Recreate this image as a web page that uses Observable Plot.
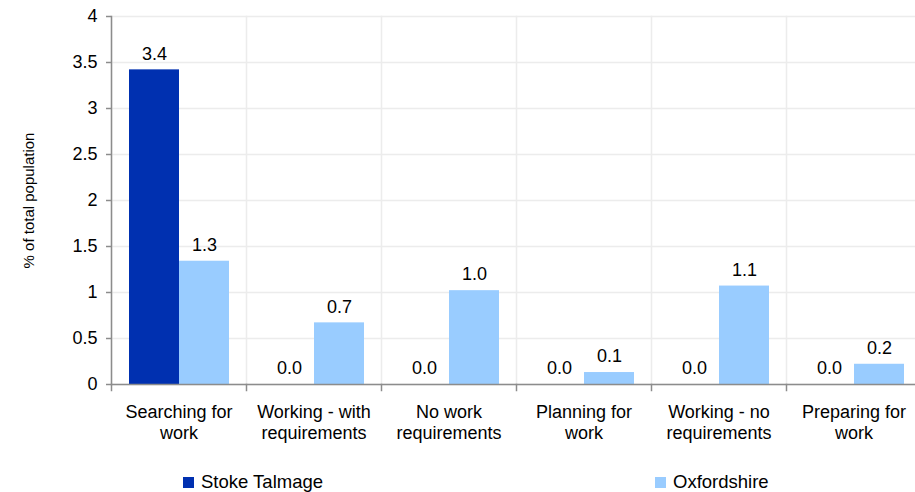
<!DOCTYPE html>
<html><head><meta charset="utf-8">
<script src="https://cdn.jsdelivr.net/npm/d3@7"></script>
<script src="https://cdn.jsdelivr.net/npm/@observablehq/plot@0.6"></script>
<style>
body{margin:0;background:#fff;font-family:"Liberation Sans",Arial,sans-serif;overflow:hidden;width:915px;height:492px}
#legend{position:relative;height:32px;}
.item{position:absolute;top:11px;display:flex;align-items:center;font-size:18.5px;line-height:22px;color:#000}
.sw{width:11px;height:11px;margin-right:7px}
</style></head><body><div id="chart"></div><div id="legend"></div>
<script>
const categories = ["Searching for\nwork", "Working - with\nrequirements", "No work\nrequirements", "Planning for\nwork", "Working - no\nrequirements", "Preparing for\nwork"];
const series = ["Stoke Talmage", "Oxfordshire"];
const stokeValues = [3.42, 0, 0, 0, 0, 0];
const oxfordshireValues = [1.34, 0.67, 1.02, 0.13, 1.07, 0.22];
const yTicks = [0, 0.5, 1, 1.5, 2, 2.5, 3, 3.5, 4];
const yLabel = "% of total population";
const colors = ["#0030B0", "#99CCFF"];

const data = categories.flatMap((c, i) => [
  {category: c, series: series[0], value: stokeValues[i]},
  {category: c, series: series[1], value: oxfordshireValues[i]}
]);

const axisGrey = "#8c8c8c";
const gridGrey = "#ececec";

const plot = Plot.plot({
  width: 915, height: 460,
  marginLeft: 110, marginRight: -7, marginTop: 16, marginBottom: 76,
  style: {fontFamily: "Liberation Sans, Arial, sans-serif", fontSize: "18px", color: "#000", background: "#fff", overflow: "visible"},
  fx: {domain: categories, padding: 0},
  x: {domain: series, paddingInner: 0, paddingOuter: 0.34, axis: null},
  y: {domain: [0, 4]},
  color: {domain: series, range: colors},
  marks: [
    Plot.gridY(yTicks, {stroke: gridGrey, strokeOpacity: 1, strokeWidth: 1.5}),
    Plot.frame({anchor: "left", stroke: gridGrey, strokeWidth: 1.5}),
    Plot.barY(data, {fx: "category", x: "series", y: "value", fill: "series"}),
    Plot.text(data, {fx: "category", x: "series", y: "value", text: d => d.value.toFixed(1), dy: -16, lineAnchor: "middle", fill: "#000", fontSize: 18}),
    Plot.ruleY([0], {stroke: axisGrey, strokeWidth: 1.5}),
    Plot.frame({anchor: "left", stroke: axisGrey, strokeWidth: 1.5, insetTop: 368, insetBottom: -6}),
    Plot.frame({fx: () => categories[0], anchor: "left", stroke: axisGrey, strokeWidth: 1.5}),
    Plot.axisFx({anchor: "bottom", label: null, tickSize: 0, tickPadding: 18, lineHeight: 1.2, fontSize: 18}),
    Plot.axisY({anchor: "left", ticks: yTicks, tickFormat: d => String(d), tickSize: 5, tickPadding: 9, stroke: axisGrey, strokeWidth: 1.5, fontSize: 18, label: null}),
    Plot.text([yLabel], {fx: () => categories[0], text: d => d, frameAnchor: "left", textAnchor: "middle", lineAnchor: "middle", rotate: -90, dx: -82, fontSize: 15, fill: "#000"})
  ]
});
document.getElementById("chart").appendChild(plot);

const legend = document.getElementById("legend");
const legendX = [183, 655];
series.forEach((s, i) => {
  const it = document.createElement("div");
  it.className = "item";
  it.style.left = legendX[i] + "px";
  it.innerHTML = `<span class="sw" style="background:${colors[i]}"></span><span>${s}</span>`;
  legend.appendChild(it);
});
</script>
</body></html>
